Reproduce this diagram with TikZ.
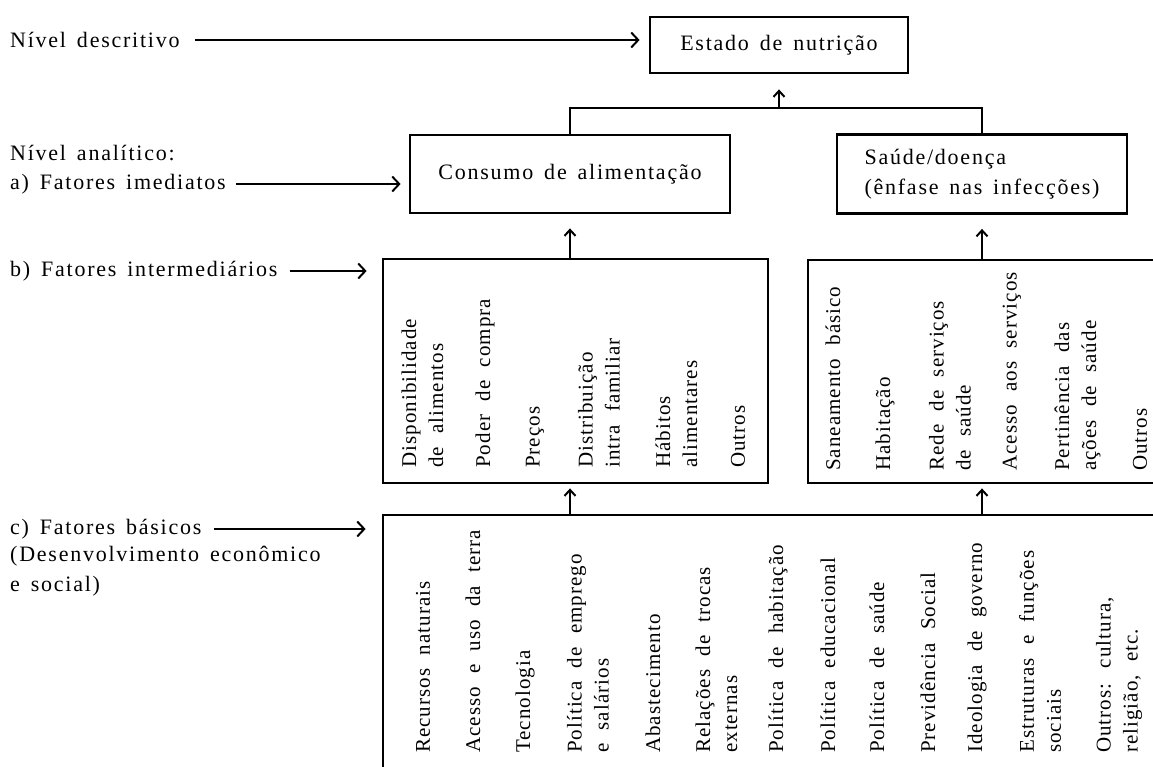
\documentclass[tikz,border=0pt]{standalone}
\usepackage{fontspec}
\setmainfont[LetterSpace=8,WordSpace=1.5]{Liberation Serif}
\newfontfamily\itemfont[LetterSpace=5,WordSpace=2.1]{Liberation Serif}
\usetikzlibrary{arrows.meta}

\tikzset{
	box/.style={draw, line width=2.8pt, inner sep=0pt},
	lbl/.style={anchor=west, inner sep=0pt, align=left},
	item/.style={rotate=90, anchor=west, inner sep=0pt, align=left, font=\itemfont\fontsize{21}{27}\selectfont},
	harr/.style={line width=2.2pt, -{Straight Barb[length=7pt,width=15pt,line width=2pt]}},
	varr/.style={line width=2.2pt, -{Straight Barb[length=6pt,width=11pt,line width=2pt]}}
}

\begin{document}
\begin{tikzpicture}[x=1pt, y=-1pt, font=\fontsize{22}{30}\selectfont]
		\useasboundingbox (0,0) rectangle (1153,767);
		
		%levels
		\node[lbl] (descr) at (10,40){Nível descritivo};
		\node[lbl] (anal) at (10,153){Nível analítico:};
		\node[lbl] (imed) at (10,184){a) Fatores imediatos};
		\node[lbl] (inter) at (10,271){b) Fatores intermediários};
		\node[lbl] (basic) at (10,529){c) Fatores básicos};
		\node[lbl, anchor=north west] (desenv) at (10,546){(Desenvolvimento econômico\\e social)};
		
		%boxes
		\node[box, minimum width=258, minimum height=56] (estado) at (779,45){Estado de nutrição};
		\node[box, minimum width=320, minimum height=78] (consumo) at (570,174){Consumo de alimentação};
		\node[box, minimum width=290, minimum height=79, align=left] (saude) at (982,174){Saúde/doença\\(ênfase nas infecções)};
		\node[box, minimum width=385, minimum height=224] (interA) at (575.5,371){};
		\node[box, minimum width=362, minimum height=223] (interB) at (989,371.5){};
		\node[box, minimum width=787, minimum height=275] (base) at (776.5,652.5){};
		
		%intermediate factors
		\node[item] (dispo) at (422.5,468){Disponibilidade\\de alimentos};
		\node[item] (poder) at (485,468){Poder de compra};
		\node[item] (precos) at (535,468){Preços};
		\node[item] (distr) at (599,468){Distribuição\\intra familiar};
		\node[item] (habal) at (676.5,468){Hábitos\\alimentares};
		\node[item] (outA) at (738,468){Outros};
		
		\node[item] (sanea) at (833,471){Saneamento básico};
		\node[item] (habit) at (885,471){Habitação};
		\node[item] (rede) at (950,471){Rede de serviços\\de saúde};
		\node[item] (acserv) at (1012,471){Acesso aos serviços};
		\node[item] (pert) at (1077.5,471){Pertinência das\\ações de saúde};
		\node[item] (outB) at (1140,471){Outros};
		
		%basic factors
		\node[item] (recur) at (423,753){Recursos naturais};
		\node[item] (terra) at (473,753){Acesso e uso da terra};
		\node[item] (tecno) at (525,753){Tecnologia};
		\node[item] (empre) at (588,753){Política de emprego\\e salários};
		\node[item] (abast) at (653,753){Abastecimento};
		\node[item] (troca) at (716.5,753){Relações de trocas\\externas};
		\node[item] (polhab) at (778,753){Política de habitação};
		\node[item] (poledu) at (828,753){Política educacional};
		\node[item] (polsau) at (877,753){Política de saúde};
		\node[item] (previ) at (928,753){Previdência Social};
		\node[item] (ideol) at (977,753){Ideologia de governo};
		\node[item] (estru) at (1040,753){Estruturas e funções\\sociais};
		\node[item] (outC) at (1119,753){Outros: cultura,\\religião, etc.};
		
		%level arrows
		\draw[harr, shorten <=15pt, shorten >=9pt] (descr.east) -- (descr.east -| estado.west);
		\draw[harr, shorten <=10pt, shorten >=8pt] (imed.east) -- (imed.east -| consumo.west);
		\draw[harr, shorten <=12pt, shorten >=15pt] (inter.east) -- (inter.east -| interA.west);
		\draw[harr, shorten <=12pt, shorten >=16pt] (basic.east) -- (basic.east -| base.west);
		
		%tree
		\coordinate (junc) at (779,108);
		\draw[line width=2.4pt] (consumo.north) |- (junc) -| (saude.north);
		\draw[varr, shorten >=15pt] (junc) -- (estado.south);
		\draw[varr, shorten >=14pt] (interA.north -| consumo.south) -- (consumo.south);
		\draw[varr, shorten >=14pt] (interB.north -| saude.south) -- (saude.south);
		\draw[varr, shorten >=4pt] (base.north -| consumo.south) -- (interA.south -| consumo.south);
		\draw[varr, shorten >=4pt] (base.north -| saude.south) -- (interB.south -| saude.south);
\end{tikzpicture}
\end{document}
